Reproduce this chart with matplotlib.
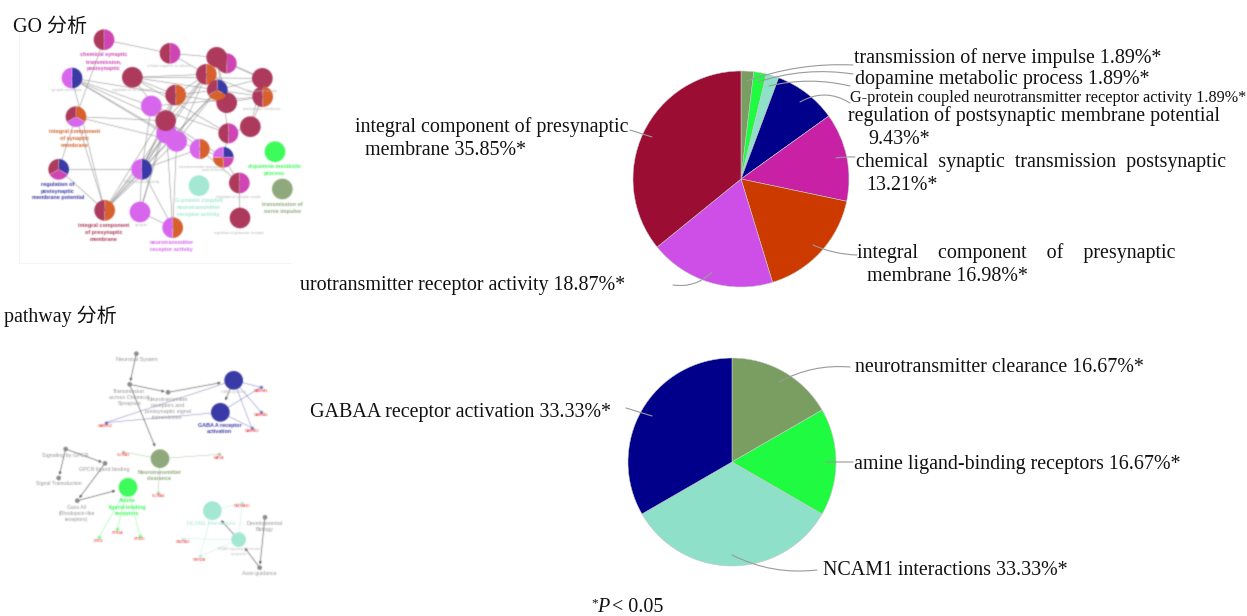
#!/usr/bin/env python3
import numpy as np
import matplotlib
matplotlib.use('Agg')
import matplotlib.pyplot as plt

W, H = 1247, 616
SERIF = ['Liberation Serif', 'Noto Sans CJK SC']
SANS = ['Liberation Sans', 'DejaVu Sans']
FS = 14.4

# pie colours
MAROON = '#9b0d32'
VIOLET = '#cd4fe8'
ORANGE = '#cc3a00'
MAGENTA = '#c921a6'
NAVY = '#00008b'
TEAL = '#8fe0c8'
GREEN = '#1ffb41'
OLIVE = '#7a9e62'

# node colours (washed out network picture)
N_MAR = '#ad3a5c'
N_VIO = '#d766ee'
N_ORG = '#d8602c'
N_MAG = '#cf45b4'
N_BLU = '#3a3aa6'
N_GRN = '#3dfb5a'
N_TEA = '#a4e8d4'
N_OLI = '#8fa97c'
N_GRY = '#8c8c8c'
T_GRY = '#949494'

go_values = [1.89, 1.89, 1.89, 9.43, 13.21, 16.98, 18.87, 35.85]
go_colors = [OLIVE, GREEN, TEAL, NAVY, MAGENTA, ORANGE, VIOLET, MAROON]
path_values = [16.67, 16.67, 33.33, 33.33]
path_colors = [OLIVE, GREEN, TEAL, NAVY]

# (text, x, y, size) in reference pixels
go_labels = [
    ('transmission of nerve impulse 1.89%*', 854, 57, FS),
    ('dopamine metabolic process 1.89%*', 855, 78, FS),
    ('G-protein coupled neurotransmitter receptor activity 1.89%*', 850, 96, 11.7),
    ('regulation of postsynaptic membrane potential', 848, 115, FS),
    ('9.43%*', 868, 138, FS),
    ('chemical  synaptic  transmission  postsynaptic', 856, 161, FS),
    ('13.21%*', 866, 184, FS),
    ('integral    component    of    presynaptic', 857, 252, FS),
    ('membrane 16.98%*', 867, 275, FS),
    ('urotransmitter receptor activity 18.87%*', 300, 284, FS),
    ('integral component of presynaptic', 355, 126, FS),
    ('membrane 35.85%*', 365, 149, FS),
]
path_labels = [
    ('neurotransmitter clearance 16.67%*', 855, 366, FS),
    ('amine ligand-binding receptors 16.67%*', 854, 463, FS),
    ('NCAM1 interactions 33.33%*', 823, 569, FS),
    ('GABAA receptor activation 33.33%*', 310, 411, FS),
]
# leader lines: (label end x, y, slice end x, y, curvature)
leaders = [
    (853, 65, 747, 81, 0.10), (853, 74, 758, 82, 0.12), (850, 86, 769, 86, 0.12),
    (850, 103, 800, 102, 0.30), (855, 157, 836, 158, 0.05), (857, 255, 813, 245, -0.10),
    (673, 285, 712, 272, 0.25), (630, 130, 652, 137, 0.0),
    (850, 367, 779, 382, 0.15), (853, 462, 826, 462, 0.0),
    (817, 570, 732, 555, -0.15), (626, 408, 652, 416, 0.0),
]

# GO network: x, y in the 3x crop, radius, colours of the node
go_nodes = [
    (312, 119, 31, [N_MAG, N_MAR]), (510, 160, 31, [N_MAG, N_MAR]), (680, 190, 30, [N_MAG, N_MAR]),
    (650, 172, 31, [N_MAR]), (216, 234, 31, [N_BLU, N_VIO]), (397, 232, 31, [N_MAR]),
    (619, 223, 31, [N_ORG, N_MAR]), (787, 235, 31, [N_MAR]), (680, 308, 31, [N_MAR]),
    (652, 270, 31, [N_BLU, N_ORG, N_MAR]), (527, 285, 31, [N_ORG, N_MAR]), (788, 290, 31, [N_ORG, N_MAR]),
    (454, 318, 31, [N_VIO]), (228, 350, 31, [N_ORG, N_VIO, N_MAR]), (500, 400, 31, [N_VIO]),
    (530, 424, 31, [N_VIO]), (497, 362, 31, [N_MAR]), (751, 380, 31, [N_MAR]),
    (685, 400, 30, [N_MAG, N_MAR]), (599, 447, 30, [N_ORG, N_VIO]), (670, 472, 31, [N_BLU, N_MAG, N_ORG, N_VIO]),
    (825, 455, 31, [N_GRN]), (176, 508, 31, [N_BLU, N_MAG, N_MAR]), (425, 508, 31, [N_BLU, N_VIO]),
    (597, 557, 31, [N_TEA]), (718, 549, 31, [N_MAG, N_MAR]), (847, 567, 31, [N_OLI]),
    (314, 631, 31, [N_ORG, N_MAR]), (420, 636, 31, [N_VIO]), (518, 683, 31, [N_ORG, N_VIO]),
    (720, 654, 31, [N_MAR]),
]
go_edges = [
    (0, 1), (0, 13), (1, 3), (1, 6), (2, 7), (2, 6), (3, 7), (3, 8), (4, 16), (4, 15),
    (4, 14), (4, 27), (4, 10), (4, 12), (5, 6), (5, 7), (5, 10), (5, 16), (5, 11), (6, 10),
    (6, 16), (6, 23), (6, 27), (6, 11), (7, 17), (7, 9), (8, 11), (8, 10), (9, 15), (9, 23),
    (9, 27), (10, 23), (10, 27), (10, 16), (10, 28), (11, 17), (12, 18), (12, 23), (12, 19), (13, 22),
    (13, 27), (13, 16), (14, 27), (14, 23), (14, 29), (15, 27), (15, 29), (16, 23), (16, 28), (16, 20),
    (17, 18), (18, 20), (19, 25), (20, 25), (22, 23), (22, 27), (23, 27), (23, 28), (23, 29), (25, 30),
    (28, 29), (13, 15), (19, 23), (6, 15), (3, 18), (5, 18), (11, 12), (9, 10), (15, 20),
]
go_texts = [
    ('chemical synaptic\ntransmission,\npostsynaptic', 310, 185, N_MAG, 4.0),
    ('integral component\nof synaptic\nmembrane', 224, 416, N_ORG, 4.0),
    ('regulation of\npostsynaptic\nmembrane potential', 174, 573, N_BLU, 4.0),
    ('integral component\nof presynaptic\nmembrane', 312, 698, N_MAR, 4.0),
    ('neurotransmitter\nreceptor activity', 515, 739, N_VIO, 4.0),
    ('G-protein coupled\nneurotransmitter\nreceptor activity', 596, 622, N_TEA, 4.0),
    ('dopamine metabolic\nprocess', 824, 511, N_GRN, 4.0),
    ('transmission of\nnerve impulse', 846, 623, N_OLI, 4.0),
]
# tiny grey node captions, hard to read in the reference
go_small = [
    ('cellular response to calcium', 505, 199), ('synaptic membrane', 200, 271), ('regulation of ion transport', 395, 270),
    ('ion channel activity', 785, 272), ('postsynaptic membrane', 785, 326), ('GABA receptor activity', 425, 546),
    ('neurotransmitter transport', 600, 500), ('regulation of synaptic vesicle', 715, 592),
    ('regulation of glutamate receptor', 718, 698), ('synapse', 425, 676), ('axon terminus', 640, 510),
]

# pathway network
path_nodes = [
    (701, 241, 28, N_BLU), (661, 337, 28, N_BLU), (480, 476, 28, N_OLI), (384, 562, 28, N_GRN),
    (637, 632, 28, N_TEA), (716, 719, 22, N_TEA),
    (409, 161, 7, N_GRY), (389, 253, 7, N_GRY), (504, 277, 7, N_GRY), (197, 447, 7, N_GRY),
    (176, 534, 7, N_GRY), (315, 490, 7, N_GRY), (232, 602, 7, N_GRY), (795, 652, 7, N_GRY),
    (779, 803, 7, N_GRY),
]
path_arrows = [(6, 7), (7, 8), (8, 0), (0, 1), (7, 2), (9, 11), (9, 10), (11, 12), (12, 3), (5, 4), (14, 5), (13, 14)]
gene_nodes = [
    (782, 262, 'GABRA1', N_BLU, (0, 1)), (782, 335, 'GABRA2', N_BLU, (0,)), (755, 383, 'GABRB2', N_BLU, (0, 1)),
    (317, 368, 'GABRG2', N_BLU, (0, 1)), (369, 456, 'SLC6A1', N_OLI, (2,)), (656, 463, 'MAOA', N_OLI, (2,)),
    (475, 578, 'SLC6A4', N_OLI, (2,)), (296, 712, 'DRD2', N_GRN, (3,)), (352, 688, 'HTR2A', N_GRN, (3,)),
    (419, 707, 'HTR2C', N_GRN, (3,)), (726, 608, 'CACNA1C', N_TEA, (4, 5)), (548, 716, 'CACNB2', N_TEA, (5,)),
    (600, 769, 'GRIN2B', N_TEA, (4, 5)),
]
path_texts = [
    ('Neuronal System', 409, 178, T_GRY, 3.9, 'normal'),
    ('Transmission\nacross Chemical\nSynapses', 388, 292, T_GRY, 3.9, 'normal'),
    ('Neurotransmitter\nreceptors and\npostsynaptic signal\ntransmission', 503, 326, T_GRY, 3.9, 'normal'),
    ('GABA A receptor\nactivation', 659, 385, N_BLU, 3.9, 'bold'),
    ('Signaling by GPCR', 196, 465, T_GRY, 3.9, 'normal'),
    ('GPCR ligand binding', 314, 508, T_GRY, 3.9, 'normal'),
    ('Signal Transduction', 176, 552, T_GRY, 3.7, 'normal'),
    ('Gαss A/I\n(Rhodopsin-like\nreceptors)', 230, 640, T_GRY, 3.7, 'normal'),
    ('Neurotransmitter\nclearance', 479, 526, N_OLI, 3.9, 'bold'),
    ('Amine\nligand-binding\nreceptors', 381, 621, N_GRN, 3.9, 'bold'),
    ('NCAM1 interactions', 635, 670, N_TEA, 3.9, 'normal'),
    ('Developmental\nBiology', 794, 680, T_GRY, 3.9, 'normal'),
    ('Axon guidance', 779, 822, T_GRY, 3.7, 'normal'),
    ('GABA synthesis', 700, 275, '#bdbdbd', 2.5, 'normal'),
    ('NCAM signaling for neurite\nout-growth', 716, 754, '#bdbdbd', 2.5, 'normal'),
]


def Y(y):
    return H - y


def blur(image, dpi):
    # the network pictures are soft in the reference
    pad = 2
    kernel = np.array([0.2, 0.6, 0.2])
    img = np.pad(image, ((pad, pad), (pad, pad), (0, 0)))
    img[..., :3] *= img[..., 3:]
    for axis in (0, 1):
        img = np.apply_along_axis(lambda v: np.convolve(v, kernel, mode='same'), axis, img)
    img[..., :3] /= np.maximum(img[..., 3:], 1e-4)
    return np.clip(img, 0, 1), -pad, -pad


def soft(artists):
    for a in artists:
        a.set_agg_filter(blur)


fig = plt.figure(figsize=(W / 100, H / 100), dpi=100, facecolor='white')
ax = fig.add_axes([0, 0, 1, 1])


def pie(values, colors, x, y, r, edge='none', lw=0, z=3):
    wedges, _ = ax.pie(values, colors=colors, center=(x, Y(y)), radius=r, startangle=90, counterclock=False,
                       frame=True, normalize=True, wedgeprops={'edgecolor': edge, 'linewidth': lw, 'zorder': z})
    return wedges


# faint frame of the GO picture
ax.plot([19, 19], [Y(33), Y(263)], color='#f3f3f3', lw=0.8, zorder=0)
ax.plot([19, 290], [Y(263), Y(263)], color='#f5f5f5', lw=0.8, zorder=0)

# GO network
for a, b in go_edges:
    soft(ax.plot([go_nodes[a][0] / 3, go_nodes[b][0] / 3], [Y(go_nodes[a][1] / 3), Y(go_nodes[b][1] / 3)],
                 color='#9a9a9a', lw=0.45, zorder=1))
for i, (x, y, r, cols) in enumerate(go_nodes):
    soft(pie([1] * len(cols), cols, x / 3, y / 3, r / 3, z=3 + i * 0.01))
for txt, x, y, c, s in go_texts:
    soft([ax.text(x / 3, Y(y / 3), txt, color=c, fontsize=s, ha='center', va='center', family=SANS,
                  fontweight='bold', linespacing=1.45, zorder=5)])
for txt, x, y in go_small:
    soft([ax.text(x / 3, Y(y / 3), txt, color='#b4b4b4', fontsize=2.5, ha='center', va='center',
                  family=SANS, zorder=5)])

# pathway network
for x, y, lab, c, hubs in gene_nodes:
    for hub in hubs:
        hx, hy = path_nodes[hub][0], path_nodes[hub][1]
        soft(ax.plot([x / 3, hx / 3], [Y(300 + y / 3), Y(300 + hy / 3)], color=c, lw=0.4, alpha=0.6, zorder=1))
    soft([ax.scatter([x / 3], [Y(300 + y / 3)], s=4, color=c, zorder=3, linewidths=0)])
    soft([ax.text(x / 3, Y(300 + y / 3 + 3.5), lab, color='#f02020', fontsize=2.6, ha='center', va='center',
                  family=SANS, zorder=5)])
for a, b in path_arrows:
    p, q = path_nodes[a], path_nodes[b]
    soft([ax.annotate('', xy=(q[0] / 3, Y(300 + q[1] / 3)), xytext=(p[0] / 3, Y(300 + p[1] / 3)),
                      arrowprops=dict(arrowstyle='-|>', color='#666666', lw=0.5, mutation_scale=4,
                                      shrinkA=1, shrinkB=q[2] / 3), zorder=2)])
for x, y, r, c in path_nodes:
    soft(pie([1], [c], x / 3, 300 + y / 3, r / 3))
for txt, x, y, c, s, wt in path_texts:
    soft([ax.text(x / 3, Y(300 + y / 3), txt, color=c, fontsize=s, ha='center', va='center', family=SANS,
                  fontweight=wt, linespacing=1.3, zorder=5)])

# main pies
pie(go_values, go_colors, 741, 179, 108, edge='#c8c8c8', lw=0.4)
pie(path_values, path_colors, 732, 462, 104, edge='#c8c8c8', lw=0.4)

for x0, y0, x1, y1, rad in leaders:
    ax.annotate('', xy=(x1, Y(y1)), xytext=(x0, Y(y0)), zorder=6,
                arrowprops=dict(arrowstyle='-', color='#9a9a9a', lw=0.8, shrinkA=0, shrinkB=0,
                                connectionstyle=f'arc3,rad={rad}'))

for txt, x, y, s in go_labels + path_labels:
    ax.text(x, Y(y + 1.5), txt, fontsize=s, ha='left', va='center', family=SERIF, color='#111111', zorder=7)

ax.text(13, Y(28), 'GO 分析', fontsize=FS, va='center', family=SERIF, color='#111111', zorder=7)
ax.text(4, Y(316), 'pathway 分析', fontsize=FS, va='center', family=SERIF, color='#111111', zorder=7)
ax.text(591, Y(603), '*', fontsize=9.5, va='center', family=SERIF, color='#111111')
ax.text(597, Y(608), 'P', fontsize=FS, va='center', style='italic', family=SERIF, color='#111111')
ax.text(612, Y(608), '< 0.05', fontsize=FS, va='center', family=SERIF, color='#111111')

ax.set_xlim(0, W)
ax.set_ylim(0, H)
ax.set_aspect('equal')
ax.axis('off')

fig.savefig('out.png', dpi=100, facecolor='white')
